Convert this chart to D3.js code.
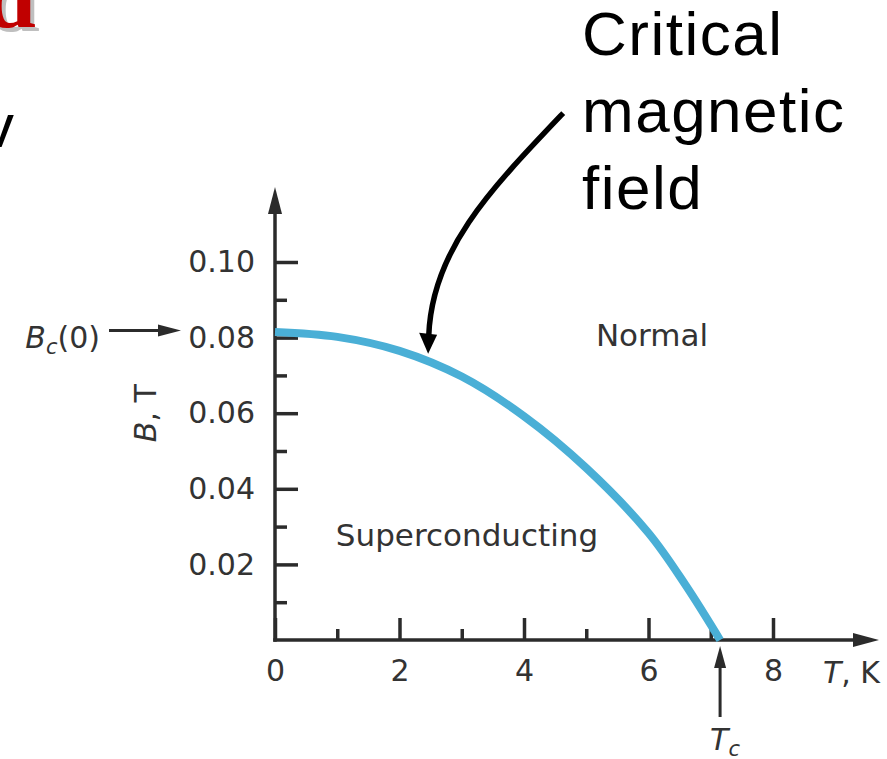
<!DOCTYPE html>
<html>
<head>
<meta charset="utf-8">
<script src="https://cdn.jsdelivr.net/npm/d3@7"></script>
<style>
  body { margin: 0; background: #fff; }
  svg { display: block; }
  .tick text { font-family: "DejaVu Sans", sans-serif; font-size: 30px; fill: #333; }
</style>
</head>
<body>
<svg id="chart" width="887" height="759" viewBox="0 0 887 759"></svg>
<script>
// critical field curve (T in K, B in tesla)
const tempK = [0, 1, 2, 3, 4, 5, 6, 6.6, 7.15]
const fieldT = [0.0815, 0.0802, 0.0765, 0.0697, 0.0592, 0.0455, 0.0283, 0.0144, 0]

const xMajor = [0, 2, 4, 6, 8]
const xMinor = [1, 3, 5, 7]
const yMajor = [0.02, 0.04, 0.06, 0.08, 0.10]
const yMinor = [0.01, 0.03, 0.05, 0.07, 0.09]

const Tc = 7.15
const Bc0 = 0.08
// pointer from "Critical magnetic field" down to the curve, in data units
const pointerT = [4.63, 3.45, 2.52, 2.47]
const pointerB = [0.1394, 0.119, 0.1032, 0.0805]

const svg = d3.select("#chart")
const ink = "#2b2b2b"

let x = d3.scaleLinear().domain([0, 8]).range([275, 773])
let y = d3.scaleLinear().domain([0, 0.10]).range([640, 262])

// leftovers of the slide behind the figure
svg.append("text").attr("x", 40).attr("y", 31)
    .attr("text-anchor", "end")
    .style("font-family", "Liberation Serif").style("font-weight", "bold").style("font-size", "92px")
    .attr("fill", "#b0b0b0").attr("opacity", 0.8).text("d")
svg.append("text").attr("x", 36).attr("y", 27)
    .attr("text-anchor", "end")
    .style("font-family", "Liberation Serif").style("font-weight", "bold").style("font-size", "92px")
    .attr("fill", "#c00000").text("d")
svg.append("text").attr("x", 14).attr("y", 147)
    .attr("text-anchor", "end")
    .style("font-family", "Liberation Sans").style("font-size", "62px")
    .attr("fill", "#000").text("v")

let plot = svg.append("g")

// axes: majors carry labels, minors are short bare ticks
plot.append("g").attr("transform", `translate(${x(0)},0)`)
    .call(d3.axisLeft(y).tickValues(yMajor).tickSizeInner(-23).tickSizeOuter(0).tickPadding(20)
        .tickFormat(d3.format(".2f")))
plot.append("g").attr("transform", `translate(${x(0)},0)`)
    .call(d3.axisLeft(y).tickValues(yMinor).tickSizeInner(-12).tickSizeOuter(0).tickFormat(""))

plot.append("g").attr("transform", `translate(0,${y(0)})`)
    .call(d3.axisBottom(x).tickValues(xMajor).tickSizeInner(-22).tickSizeOuter(0).tickPadding(20)
        .tickFormat(d3.format("d")))
plot.append("g").attr("transform", `translate(0,${y(0)})`)
    .call(d3.axisBottom(x).tickValues(xMinor).tickSizeInner(-11).tickSizeOuter(0).tickFormat(""))

plot.selectAll(".domain").remove()
plot.selectAll(".tick line").attr("stroke", ink).attr("stroke-width", 3.5)

// axis lines with arrow heads
plot.append("line").attr("x1", x(0)).attr("x2", x(0)).attr("y1", y(0) + 1.75).attr("y2", 210)
    .attr("stroke", ink).attr("stroke-width", 3.5)
plot.append("path").attr("d", `M${x(0)},187 L${x(0) - 7},214 L${x(0) + 7},214 Z`).attr("fill", ink)
plot.append("line").attr("x1", x(0) - 1.75).attr("x2", 856).attr("y1", y(0)).attr("y2", y(0))
    .attr("stroke", ink).attr("stroke-width", 3.5)
plot.append("path").attr("d", `M879,${y(0)} L853,${y(0) - 7} L853,${y(0) + 7} Z`).attr("fill", ink)

// critical field curve
let pts = tempK.map((t, i) => [t, fieldT[i]])
plot.append("path").datum(pts)
    .attr("d", d3.line().x(d => x(d[0])).y(d => y(d[1])).curve(d3.curveCatmullRom))
    .attr("fill", "none").attr("stroke", "#4aafd6").attr("stroke-width", 8).attr("stroke-linecap", "butt")

const labelFont = "DejaVu Sans, sans-serif"
const textColor = "#333"

plot.append("text").attr("x", 652).attr("y", 346).attr("text-anchor", "middle")
    .style("font-family", labelFont).style("font-size", "31px").attr("fill", textColor).text("Normal")
plot.append("text").attr("x", 467).attr("y", 546).attr("text-anchor", "middle")
    .style("font-family", labelFont).style("font-size", "31px").attr("fill", textColor).text("Superconducting")

// y label "B, T"
let yl = plot.append("text").attr("transform", `translate(156,${y(0.06)}) rotate(-90)`)
    .attr("text-anchor", "middle")
    .style("font-family", labelFont).style("font-size", "30px").attr("fill", textColor)
yl.append("tspan").style("font-style", "italic").text("B")
yl.append("tspan").text(", T")

// x label "T, K"
let xl = plot.append("text").attr("x", 880).attr("y", 683).attr("text-anchor", "end")
    .style("font-family", labelFont).style("font-size", "30px").attr("fill", textColor)
xl.append("tspan").style("font-style", "italic").text("T")
xl.append("tspan").text(", K")

// Bc(0) marker
let bl = plot.append("text").attr("x", 100).attr("y", y(Bc0) + 10).attr("text-anchor", "end")
    .style("font-family", labelFont).style("font-size", "30px").attr("fill", textColor)
bl.append("tspan").style("font-style", "italic").text("B")
bl.append("tspan").style("font-style", "italic").style("font-size", "21px").attr("dy", 6).text("c")
bl.append("tspan").attr("dy", -6).text("(0)")
plot.append("line").attr("x1", 109).attr("x2", 162).attr("y1", y(Bc0) - 7).attr("y2", y(Bc0) - 7)
    .attr("stroke", ink).attr("stroke-width", 3)
plot.append("path").attr("d", `M181,${y(Bc0) - 7} L158,${y(Bc0) - 13} L158,${y(Bc0) - 1} Z`).attr("fill", ink)

// Tc marker
plot.append("line").attr("x1", x(Tc)).attr("x2", x(Tc)).attr("y1", 717).attr("y2", 664)
    .attr("stroke", ink).attr("stroke-width", 3)
plot.append("path").attr("d", `M${x(Tc)},646 L${x(Tc) - 6},668 L${x(Tc) + 6},668 Z`).attr("fill", ink)
let tl = plot.append("text").attr("x", x(Tc) - 10).attr("y", 750)
    .style("font-family", labelFont).style("font-size", "30px").attr("fill", textColor)
tl.append("tspan").style("font-style", "italic").text("T")
tl.append("tspan").style("font-style", "italic").style("font-size", "21px").attr("dy", 6).text("c")

// annotation
const bigFont = "Liberation Sans, Arial, sans-serif"
let ann = svg.append("text").attr("x", 582).attr("y", 55)
    .style("font-family", bigFont).style("font-size", "62px").style("letter-spacing", "1.5px").attr("fill", "#000")
;["Critical", "magnetic", "field"].forEach((s, i) => {
    ann.append("tspan").attr("x", 582).attr("y", 55 + i * 77).text(s)
})

let p = pointerT.map((t, i) => [x(t), y(pointerB[i])])
svg.append("path")
    .attr("d", `M${p[0]} C${p[1]} ${p[2]} ${p[3]}`)
    .attr("fill", "none").attr("stroke", "#000").attr("stroke-width", 5.5)
let tip = [x(2.46), y(0.0757)]
svg.append("path")
    .attr("d", `M${tip[0]},${tip[1]} L${tip[0] - 9},${tip[1] - 21} L${tip[0] + 9},${tip[1] - 19} Z`)
    .attr("fill", "#000")
</script>
</body>
</html>
